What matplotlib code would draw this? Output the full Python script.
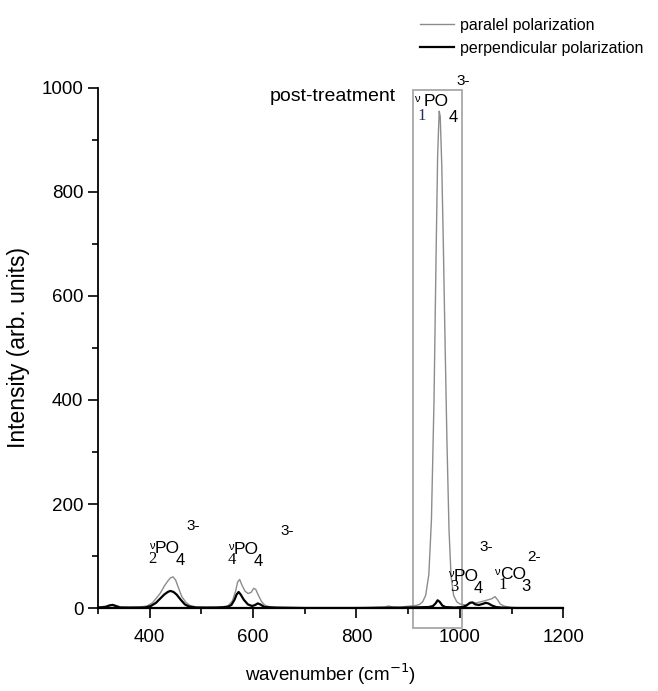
import matplotlib
matplotlib.use('Agg')
from matplotlib import pyplot as plt
from matplotlib.patches import Rectangle
from matplotlib.lines import Line2D

# parallel polarization (gray)
par_x = [300, 310, 320, 328, 335, 345, 360, 380, 395, 405, 412, 420, 428, 435, 440, 445, 450, 456, 462, 470, 478, 490,
         510, 540, 552, 560, 566, 570, 574, 578, 584, 590, 596, 601, 605, 610, 616, 622, 630, 645, 680, 750, 820, 855,
         862, 870, 885, 895, 905, 915, 922, 928, 934, 940, 945, 950, 954, 957, 960, 962, 965, 968, 971, 975, 979, 983,
         988, 994, 1000, 1010, 1018, 1025, 1032, 1040, 1048, 1055, 1062, 1068, 1073, 1078, 1085, 1095, 1110, 1150, 1200]
par_y = [2, 3, 5, 7, 5, 2, 1, 2, 4, 10, 18, 28, 42, 52, 58, 60, 54, 38, 22, 11, 5, 2,
         1, 2, 5, 14, 32, 50, 55, 45, 33, 28, 30, 38, 36, 25, 13, 6, 3, 1, 1, 1, 1, 2,
         4, 2, 1, 3, 4, 5, 7, 12, 25, 65, 170, 400, 680, 870, 955, 945, 850, 700, 530, 320, 150, 60,
         24, 12, 8, 6, 8, 11, 10, 12, 14, 16, 18, 22, 16, 8, 4, 2, 1, 1, 1]

# perpendicular polarization (black)
per_x = [300, 315, 322, 328, 334, 342, 360, 390, 402, 412, 420, 428, 435, 440, 446, 452, 460, 468, 476, 490,
         530, 550, 558, 564, 568, 572, 576, 582, 590, 598, 604, 609, 614, 622, 640, 700, 800, 900, 940, 948,
         953, 957, 961, 966, 972, 990, 1005, 1013, 1019, 1024, 1030, 1037, 1044, 1050, 1055, 1062, 1070, 1080, 1100, 1200]
per_y = [1, 2, 5, 6, 4, 1, 1, 1, 4, 10, 18, 26, 31, 33, 31, 26, 16, 7, 3, 1,
         1, 2, 6, 16, 26, 31, 26, 16, 7, 4, 6, 9, 7, 2, 1, 0, 0, 1, 2, 4,
         9, 15, 12, 5, 2, 1, 2, 5, 10, 11, 7, 6, 8, 10, 9, 5, 2, 1, 0, 0]

legend_labels = ['paralel polarization', 'perpendicular polarization']

SANS = 'Liberation Sans'
SERIF = 'Liberation Serif'

fig = plt.figure(figsize=(6.58, 6.91), dpi=100)
ax = fig.add_axes([0.149, 0.12, 0.707, 0.753])

ax.plot(par_x, par_y, color='#8c8c8c', lw=1.0)
ax.plot(per_x, per_y, color='black', lw=1.6)

ax.set_xlim(300, 1200)
ax.set_ylim(0, 1000)
ax.spines['top'].set_visible(False)
ax.spines['right'].set_visible(False)
ax.spines['left'].set_linewidth(1.3)
ax.spines['bottom'].set_linewidth(1.6)
ax.set_xticks([400, 600, 800, 1000, 1200])
ax.set_xticks(range(300, 1201, 100), minor=True)
ax.set_yticks(range(0, 1001, 200))
ax.set_yticks(range(0, 1001, 100), minor=True)
ax.tick_params(which='both', direction='out', width=1.2, length=7)
ax.tick_params(which='minor', length=4)
ax.tick_params(axis='x', which='major', pad=8)
for lab in ax.get_xticklabels() + ax.get_yticklabels():
    lab.set_fontfamily(SANS)
    lab.set_fontsize(13.5)

ax.set_xlabel('wavenumber (cm$^{-1}$)', fontsize=13.5, family=SANS, labelpad=11)
ax.set_ylabel('Intensity (arb. units)', fontsize=16.5, family=SANS, labelpad=8)

# box around the main phosphate band
ax.add_patch(Rectangle((909, -38), 95, 1033, fill=False, edgecolor='#a8a8a8', lw=1.3, clip_on=False))

ax.text(876, 983, 'post-treatment', family=SANS, fontsize=14, ha='right', va='center')


def band_label(xn, yn, sub, mol, sub2, charge, xs, xm, xe, xc, yc, subcolor='black', drop=25):
    ax.text(xn, yn, 'ν', family=SANS, fontsize=8, ha='center', va='center', clip_on=False)
    ax.text(xs, yn - drop, sub, family=SERIF, fontsize=12, ha='center', va='center', color=subcolor, clip_on=False)
    ax.text(xm, yn - 5, mol, family=SANS, fontsize=12.5, ha='center', va='center', clip_on=False)
    ax.text(xe, yn - drop - 3, sub2, family=SANS, fontsize=12, ha='center', va='center', clip_on=False)
    ax.text(xc, yc, charge, family=SANS, fontsize=11, ha='center', va='center', clip_on=False)


band_label(404, 119, '2', 'PO', '4', '3-', 406, 434, 459, 484, 158)
band_label(557, 117, '4', 'PO', '4', '3-', 559, 586, 610, 665, 148)
band_label(982, 66, '3', 'PO', '4', '3-', 990, 1012, 1035, 1050, 118)
band_label(1072, 70, '1', 'CO', '3', '2-', 1082, 1103, 1127, 1143, 98)
band_label(917, 978, '1', 'PO', '4', '3-', 927, 955, 987, 1006, 1013, subcolor='#1f3060', drop=33)

handles = [Line2D([], [], color='#8c8c8c', lw=1.0), Line2D([], [], color='black', lw=1.6)]
leg = fig.legend(handles, legend_labels, loc='upper right', bbox_to_anchor=(1.0, 0.995), frameon=False,
                 prop={'family': SANS, 'size': 11.5}, handlelength=2.1, handletextpad=0.4, labelspacing=0.5)

fig.savefig('out.png', dpi=100)
